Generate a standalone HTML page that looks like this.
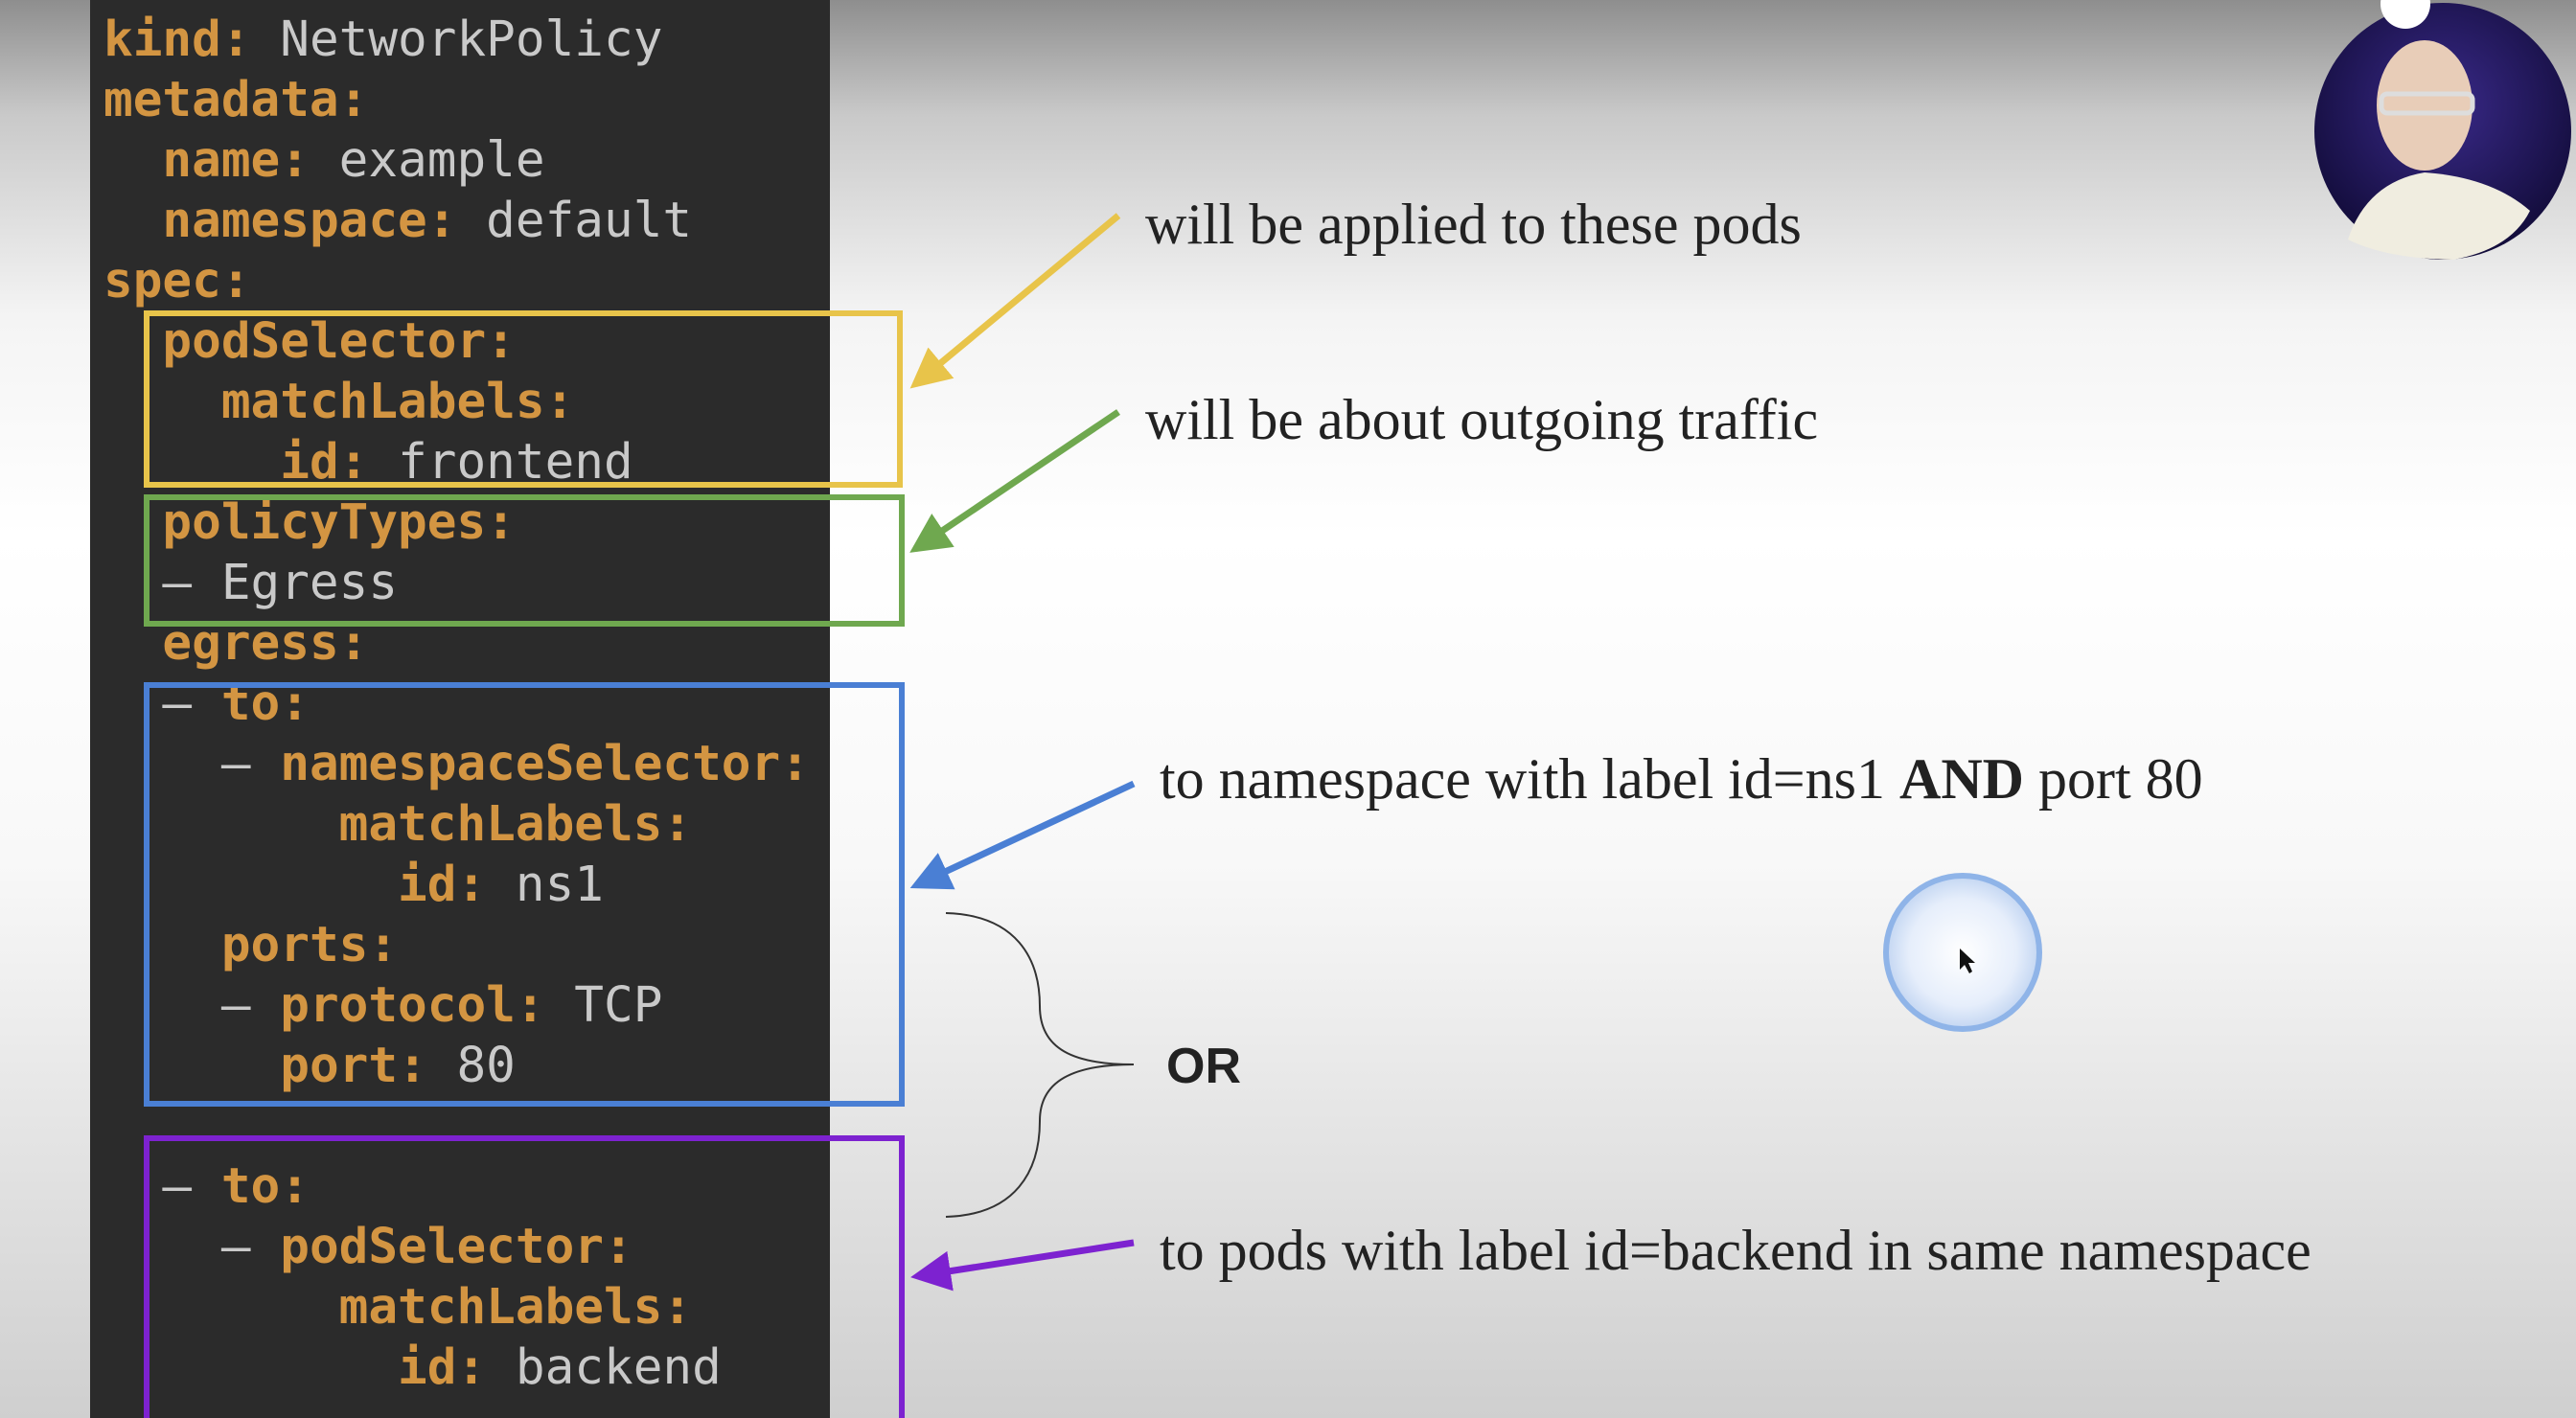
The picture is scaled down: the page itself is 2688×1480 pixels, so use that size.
<!DOCTYPE html>
<html><head><meta charset="utf-8"><style>
html,body{margin:0;padding:0}
body{width:2688px;height:1480px;overflow:hidden;position:relative;
background:linear-gradient(to bottom,#8e8e8e 0px,#c9c9c9 120px,#f4f4f4 330px,#ffffff 560px,#f8f8f8 900px,#dcdcdc 1300px,#cfcfcf 1480px);
font-family:"Liberation Serif",serif}
#code{position:absolute;left:94px;top:0;width:772px;height:1480px;background:#2b2b2b}
.l{position:absolute;left:108px;font-family:"DejaVu Sans Mono","Liberation Mono",monospace;font-size:51px;line-height:63px;height:63px;white-space:pre;color:#c9c9c9}
.k{color:#d39542;font-weight:bold}
.t{position:absolute;font-size:60px;color:#222;white-space:nowrap;line-height:1}
</style></head><body>
<div id="code"></div>
<div class="l" style="top:10px"><span class="k">kind:</span> NetworkPolicy</div>
<div class="l" style="top:73px"><span class="k">metadata:</span></div>
<div class="l" style="top:136px">  <span class="k">name:</span> example</div>
<div class="l" style="top:199px">  <span class="k">namespace:</span> default</div>
<div class="l" style="top:262px"><span class="k">spec:</span></div>
<div class="l" style="top:325px">  <span class="k">podSelector:</span></div>
<div class="l" style="top:388px">    <span class="k">matchLabels:</span></div>
<div class="l" style="top:451px">      <span class="k">id:</span> frontend</div>
<div class="l" style="top:514px">  <span class="k">policyTypes:</span></div>
<div class="l" style="top:577px">  – Egress</div>
<div class="l" style="top:640px">  <span class="k">egress:</span></div>
<div class="l" style="top:703px">  – <span class="k">to:</span></div>
<div class="l" style="top:766px">    – <span class="k">namespaceSelector:</span></div>
<div class="l" style="top:829px">        <span class="k">matchLabels:</span></div>
<div class="l" style="top:892px">          <span class="k">id:</span> ns1</div>
<div class="l" style="top:955px">    <span class="k">ports:</span></div>
<div class="l" style="top:1018px">    – <span class="k">protocol:</span> TCP</div>
<div class="l" style="top:1081px">      <span class="k">port:</span> 80</div>
<div class="l" style="top:1207px">  – <span class="k">to:</span></div>
<div class="l" style="top:1270px">    – <span class="k">podSelector:</span></div>
<div class="l" style="top:1333px">        <span class="k">matchLabels:</span></div>
<div class="l" style="top:1396px">          <span class="k">id:</span> backend</div>

<svg width="2688" height="1480" style="position:absolute;left:0;top:0">
<defs>
<marker id="ay" markerWidth="6" markerHeight="6" refX="5" refY="3" orient="auto" markerUnits="strokeWidth"><path d="M0,0 L6,3 L0,6 z" fill="#e8c44a"/></marker>
<marker id="ag" markerWidth="6" markerHeight="6" refX="5" refY="3" orient="auto" markerUnits="strokeWidth"><path d="M0,0 L6,3 L0,6 z" fill="#6fa84f"/></marker>
<marker id="ab" markerWidth="6" markerHeight="6" refX="5" refY="3" orient="auto" markerUnits="strokeWidth"><path d="M0,0 L6,3 L0,6 z" fill="#4a7fd4"/></marker>
<marker id="ap" markerWidth="6" markerHeight="6" refX="5" refY="3" orient="auto" markerUnits="strokeWidth"><path d="M0,0 L6,3 L0,6 z" fill="#7d22d0"/></marker>
<radialGradient id="av" cx="50%" cy="40%" r="60%"><stop offset="0" stop-color="#3a2a8a"/><stop offset="1" stop-color="#120c3a"/></radialGradient>
<radialGradient id="cb" cx="50%" cy="50%" r="50%"><stop offset="0" stop-color="#ffffff"/><stop offset="0.7" stop-color="#e6eefb"/><stop offset="1" stop-color="#c3d6f2"/></radialGradient>
</defs>
<rect x="153" y="327" width="786" height="179" fill="none" stroke="#e8c44a" stroke-width="6"/>
<rect x="153" y="519" width="788" height="132" fill="none" stroke="#6fa84f" stroke-width="6"/>
<rect x="153" y="715" width="788" height="437" fill="none" stroke="#4a7fd4" stroke-width="6"/>
<rect x="153" y="1188" width="788" height="320" fill="none" stroke="#7d22d0" stroke-width="6"/>
<line x1="1167" y1="225" x2="955" y2="401" stroke="#e8c44a" stroke-width="7" marker-end="url(#ay)"/>
<line x1="1167" y1="430" x2="955" y2="573" stroke="#6fa84f" stroke-width="7" marker-end="url(#ag)"/>
<line x1="1183" y1="818" x2="956" y2="924" stroke="#4a7fd4" stroke-width="7" marker-end="url(#ab)"/>
<line x1="1183" y1="1297" x2="957" y2="1332" stroke="#7d22d0" stroke-width="7" marker-end="url(#ap)"/>
<path d="M987,953 C1060,955 1085,1000 1085,1050 C1085,1095 1120,1111 1183,1111 C1120,1111 1085,1128 1085,1170 C1085,1222 1060,1268 987,1270" fill="none" stroke="#333" stroke-width="2"/>
<circle cx="2048" cy="994" r="80" fill="url(#cb)" stroke="#8fb4e8" stroke-width="6"/>
<path d="M2045,990 L2045,1012 L2050,1007 L2055,1016 L2058,1014 L2054,1005 L2061,1005 z" fill="#111"/>
<circle cx="2549" cy="137" r="134" fill="url(#av)"/>
<ellipse cx="2530" cy="110" rx="50" ry="68" fill="#e8cdb8"/>
<rect x="2485" y="98" width="95" height="20" rx="6" fill="none" stroke="#ddd" stroke-width="5"/>
<path d="M2450,250 Q2470,190 2530,180 Q2600,185 2640,220 Q2620,260 2560,271 Q2490,270 2450,250 z" fill="#f0ede0"/>
<circle cx="2510" cy="4" r="26" fill="#fff"/>
</svg>
<div class="t" style="left:1195px;top:204px">will be applied to these pods</div>
<div class="t" style="left:1195px;top:408px">will be about outgoing traffic</div>
<div class="t" style="left:1210px;top:783px">to namespace with label id=ns1 <b>AND</b> port 80</div>
<div class="t" style="left:1217px;top:1087px;font-weight:bold;font-family:'Liberation Sans',sans-serif;font-size:52px">OR</div>
<div class="t" style="left:1210px;top:1275px">to pods with label id=backend in same namespace</div>
</body></html>
